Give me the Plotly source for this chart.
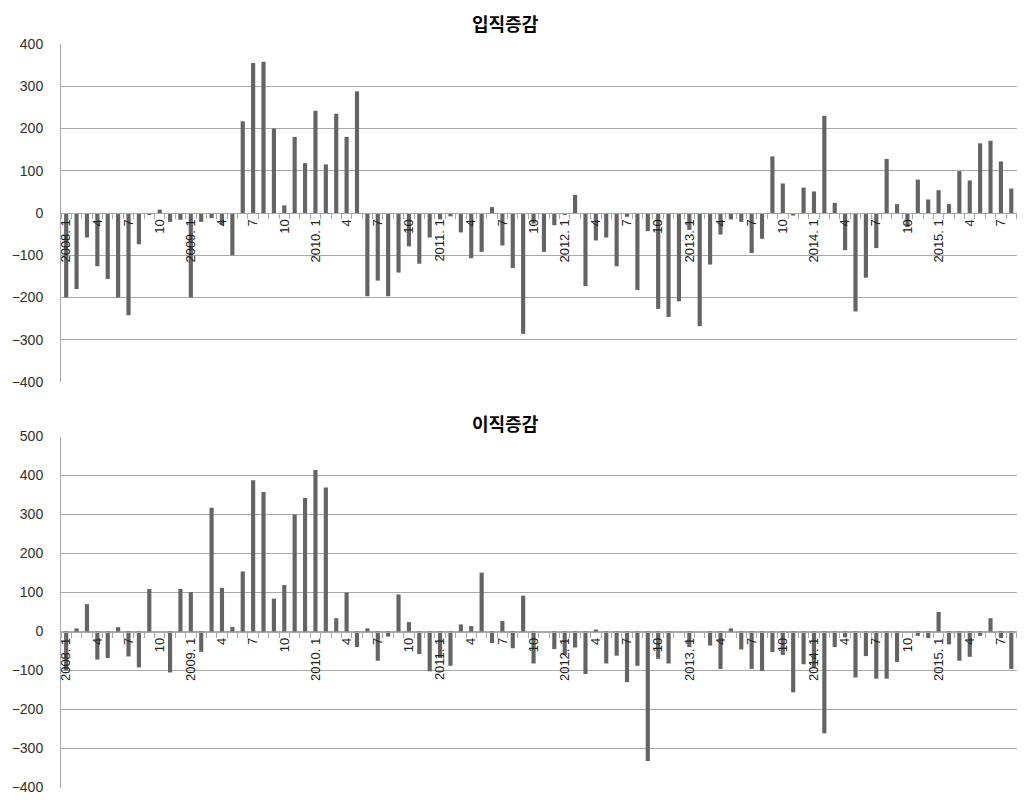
import plotly.graph_objects as go

# ---- data -------------------------------------------------------------
years = [2008, 2009, 2010, 2011, 2012, 2013, 2014, 2015]
last_month_2015 = 8
months = [f"{y}.{m:02d}" for y in years for m in range(1, 13)
          if not (y == 2015 and m > last_month_2015)]
tick_text = [(f"{c[:4]}. 1" if c.endswith(".01") else str(int(c[5:])))
             if int(c[5:]) in (1, 4, 7, 10) else "" for c in months]

title_top = "입직증감"
title_bottom = "이직증감"

hires_change = [
    -200, -180, -58, -126, -156, -200, -242, -74, -3, 8, -21, -16,
    -200, -21, -12, -28, -100, 217, 355, 358, 200, 18, 180, 118,
    242, 115, 235, 180, 288, -197, -160, -197, -141, -79, -120, -58,
    -15, -8, -46, -107, -92, 14, -77, -130, -286, -25, -92, -29,
    -5, 43, -173, -65, -58, -126, -9, -182, -43, -227, -246, -209,
    -40, -268, -122, -51, -15, -21, -95, -61, 134, 70, -6, 60,
    51, 230, 24, -88, -233, -153, -83, 128, 21, -33, 79, 32,
    54, 21, 99, 77, 165, 171, 122, 58,
]

separations_change = [
    -100, 8, 70, -72, -68, 11, -64, -92, 109, 0, -105, 109,
    101, -52, 317, 112, 12, 154, 388, 358, 84, 119, 300, 342,
    414, 369, 34, 100, -40, 8, -75, -13, 95, 24, -58, -102,
    -68, -88, 18, 14, 151, -30, 27, -43, 92, -82, 0, -45,
    -60, -41, -109, 3, -82, -62, -130, -88, -332, -70, -82, 0,
    -40, 0, -36, -96, 8, -46, -96, -101, -53, -60, -156, -84,
    -92, -261, -40, -15, -118, -63, -121, -121, -78, 0, -11, -17,
    50, -33, -75, -65, -11, 34, -17, -96,
]

# ---- style -------------------------------------------------------------
OFF = 8  # default margin of the html body; keep the figure inside the viewport
W, H = 1025 - 2 * OFF, 803 - 2 * OFF
BAR = "#646464"
GRID = "#a8a8a8"
NUM_FONT = dict(family="Liberation Sans, Arial, sans-serif", size=14, color="#303030")
TICK_FONT = dict(family="Liberation Sans, Arial, sans-serif", size=13, color="#202020")
TITLE_FONT = dict(family="Noto Sans CJK KR, sans-serif", size=18, color="#000000")


def px(p):
    return (p - OFF) / W


def py(p):
    return 1 - (p - OFF) / H


x_dom = [px(61), 1.0]
top_dom = [py(382), py(44)]
bot_dom = [py(787.5), py(436.5)]
top_range = [-400, 400]
bot_range = [-400, 500]
top_zero = top_dom[0] + (top_dom[1] - top_dom[0]) * 400 / 800
bot_zero = bot_dom[0] + (bot_dom[1] - bot_dom[0]) * 400 / 900

fig = go.Figure()
fig.add_trace(go.Bar(x=months, y=hires_change, marker=dict(color=BAR, line=dict(width=0)),
                     xaxis="x", yaxis="y", showlegend=False))
fig.add_trace(go.Bar(x=months, y=separations_change, marker=dict(color=BAR, line=dict(width=0)),
                     xaxis="x2", yaxis="y2", showlegend=False))


def xaxis_cfg(pos):
    return dict(
        type="category", domain=x_dom, range=[-0.5, len(months) - 0.45],
        anchor="free", position=pos, automargin=False,
        tickmode="array", tickvals=months, ticktext=tick_text,
        tickangle=-90, tickfont=TICK_FONT,
        ticks="outside", ticklen=5, tickwidth=1, tickcolor=GRID, tickson="boundaries",
        showline=True, linecolor=GRID, linewidth=1,
        showgrid=False, zeroline=False, fixedrange=True,
    )


def yaxis_cfg(dom, rng, anchor_x):
    return dict(
        domain=dom, range=rng, dtick=100, tick0=0, anchor=anchor_x, automargin=False,
        showgrid=True, gridcolor=GRID, gridwidth=1,
        showline=True, linecolor=GRID, linewidth=1,
        zeroline=False, ticks="", tickfont=NUM_FONT, ticklabelstandoff=14,
        ticklabeloverflow="allow", fixedrange=True,
    )


fig.update_layout(
    width=W, height=H, autosize=False,
    margin=dict(l=0, r=0, t=0, b=0, pad=0, autoexpand=False),
    paper_bgcolor="white", plot_bgcolor="white",
    bargap=0.6,
    xaxis=xaxis_cfg(top_zero),
    yaxis=yaxis_cfg(top_dom, top_range, "x"),
    xaxis2=xaxis_cfg(bot_zero),
    yaxis2=yaxis_cfg(bot_dom, bot_range, "x2"),
    annotations=[
        dict(text=f"<b>{title_top}</b>", x=px(505), y=py(23), xref="paper", yref="paper",
             showarrow=False, font=TITLE_FONT, xanchor="center", yanchor="middle"),
        dict(text=f"<b>{title_bottom}</b>", x=px(505), y=py(423), xref="paper", yref="paper",
             showarrow=False, font=TITLE_FONT, xanchor="center", yanchor="middle"),
    ],
)

fig.write_html("out.html")
